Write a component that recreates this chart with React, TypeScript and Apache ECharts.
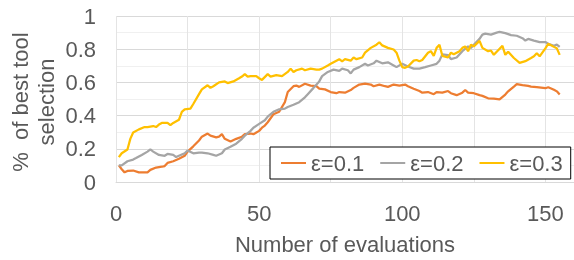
import React, { useEffect, useRef } from "react";
import * as echarts from "echarts";

const seriesNames = ["ε=0.1", "ε=0.2", "ε=0.3"];
const seriesColors = ["#ED7D31", "#A5A5A5", "#FFC000"];

const eps01: [number, number][] = [
  [1, 0.1], [2, 0.077], [3, 0.058], [4, 0.067], [6, 0.069], [8, 0.058], [10, 0.058], [11, 0.058],
  [12, 0.073], [14, 0.087], [16, 0.092], [17, 0.096], [18, 0.115], [20, 0.125], [22, 0.14], [24, 0.158],
  [25, 0.183], [27, 0.215], [29, 0.25], [30, 0.273], [32, 0.292], [33, 0.279], [35, 0.269], [36, 0.273],
  [37, 0.288], [38, 0.26], [40, 0.244], [42, 0.26], [44, 0.273], [45, 0.288], [47, 0.292], [48, 0.288],
  [50, 0.308], [51, 0.327], [52, 0.34], [53, 0.36], [55, 0.408], [57, 0.423], [59, 0.481], [60, 0.542],
  [62, 0.577], [63, 0.581], [64, 0.573], [66, 0.592], [68, 0.581], [70, 0.577], [71, 0.562], [73, 0.558],
  [75, 0.542], [77, 0.535], [78, 0.542], [80, 0.538], [82, 0.554], [83, 0.567], [85, 0.587], [87, 0.592],
  [89, 0.587], [90, 0.577], [92, 0.587], [94, 0.577], [95, 0.573], [97, 0.587], [99, 0.581], [101, 0.587],
  [102, 0.577], [104, 0.562], [106, 0.548], [107, 0.538], [109, 0.542], [111, 0.529], [112, 0.542],
  [114, 0.538], [116, 0.548], [117, 0.535], [119, 0.523], [121, 0.538], [122, 0.554], [123, 0.538],
  [125, 0.535], [127, 0.523], [128, 0.519], [130, 0.504], [132, 0.502], [134, 0.498], [136, 0.527],
  [137, 0.546], [139, 0.575], [140, 0.59], [142, 0.584], [144, 0.579], [145, 0.575], [147, 0.571],
  [150, 0.565], [151, 0.571], [153, 0.556], [154, 0.546], [155, 0.527],
];

const eps02: [number, number][] = [
  [1, 0.1], [2, 0.1], [4, 0.125], [6, 0.135], [7, 0.144], [9, 0.163], [11, 0.183], [12, 0.196],
  [13, 0.183], [15, 0.163], [17, 0.158], [18, 0.169], [20, 0.163], [21, 0.15], [22, 0.158], [24, 0.173],
  [25, 0.19], [27, 0.173], [29, 0.177], [30, 0.177], [32, 0.173], [34, 0.163], [35, 0.158], [37, 0.173],
  [38, 0.196], [40, 0.212], [42, 0.231], [44, 0.26], [45, 0.279], [47, 0.308], [48, 0.327], [50, 0.35],
  [52, 0.372], [53, 0.394], [55, 0.423], [57, 0.438], [59, 0.442], [60, 0.452], [62, 0.465], [64, 0.481],
  [66, 0.51], [67, 0.529], [69, 0.567], [71, 0.606], [72, 0.638], [74, 0.663], [76, 0.677], [78, 0.669],
  [79, 0.683], [81, 0.673], [82, 0.654], [83, 0.677], [85, 0.692], [87, 0.712], [88, 0.702], [90, 0.715],
  [91, 0.731], [93, 0.715], [95, 0.721], [97, 0.702], [98, 0.692], [100, 0.712], [102, 0.696],
  [104, 0.683], [106, 0.683], [108, 0.692], [110, 0.702], [112, 0.712], [113, 0.731], [114, 0.769],
  [116, 0.765], [117, 0.74], [119, 0.75], [121, 0.788], [123, 0.817], [124, 0.808], [125, 0.827],
  [127, 0.862], [128, 0.888], [129, 0.894], [131, 0.888], [133, 0.9], [134, 0.904], [136, 0.897],
  [138, 0.885], [140, 0.881], [142, 0.866], [143, 0.852], [144, 0.862], [146, 0.852], [148, 0.843],
  [150, 0.843], [151, 0.833], [153, 0.82], [154, 0.828], [155, 0.814],
];

const eps03: [number, number][] = [
  [1, 0.15], [2, 0.173], [4, 0.196], [5, 0.26], [6, 0.298], [8, 0.317], [10, 0.331], [11, 0.331],
  [13, 0.337], [14, 0.331], [15, 0.346], [16, 0.356], [18, 0.356], [19, 0.342], [20, 0.356], [22, 0.375],
  [23, 0.423], [24, 0.438], [26, 0.442], [27, 0.47], [29, 0.529], [30, 0.558], [32, 0.583], [33, 0.567],
  [34, 0.577], [36, 0.6], [38, 0.606], [39, 0.596], [41, 0.606], [43, 0.625], [44, 0.635], [45, 0.65],
  [46, 0.635], [47, 0.638], [49, 0.638], [50, 0.625], [51, 0.615], [53, 0.65], [54, 0.635], [56, 0.644],
  [58, 0.638], [60, 0.663], [61, 0.683], [62, 0.663], [63, 0.673], [65, 0.683], [66, 0.673], [68, 0.683],
  [70, 0.677], [71, 0.677], [72, 0.683], [74, 0.702], [75, 0.712], [77, 0.731], [78, 0.74], [79, 0.727],
  [80, 0.74], [82, 0.731], [83, 0.75], [84, 0.74], [86, 0.75], [87, 0.779], [89, 0.808], [91, 0.827],
  [92, 0.842], [93, 0.823], [95, 0.808], [97, 0.798], [98, 0.779], [99, 0.731], [100, 0.692],
  [101, 0.688], [102, 0.696], [104, 0.731], [105, 0.735], [106, 0.727], [107, 0.735], [109, 0.779],
  [110, 0.788], [111, 0.76], [112, 0.808], [113, 0.827], [114, 0.76], [116, 0.75], [117, 0.779],
  [118, 0.769], [120, 0.788], [121, 0.808], [122, 0.817], [123, 0.788], [124, 0.827], [125, 0.817],
  [127, 0.85], [128, 0.808], [130, 0.788], [131, 0.792], [132, 0.766], [133, 0.785], [135, 0.82],
  [136, 0.766], [137, 0.785], [139, 0.747], [141, 0.718], [143, 0.728], [145, 0.747], [146, 0.757],
  [147, 0.776], [148, 0.757], [150, 0.805], [151, 0.833], [153, 0.814], [154, 0.805], [155, 0.766],
];

const xAxisTitle = "Number of evaluations";
const yAxisTitle = "%  of best tool\nselection";

const FONT = "'Liberation Sans', Arial, sans-serif";
const TEXT = "#595959";

export default function App() {
  const ref = useRef<HTMLDivElement>(null);
  useEffect(() => {
    if (!ref.current) return;
    const chart = echarts.init(ref.current, undefined, { renderer: "svg" });
    const allData = [eps01, eps02, eps03];
    chart.setOption({
      animation: false,
      textStyle: { fontFamily: FONT },
      grid: { left: 116, top: 16, right: -2, bottom: 70, containLabel: false },
      xAxis: {
        type: "value",
        min: 0,
        max: 160,
        interval: 50,
        axisLine: { show: true, lineStyle: { color: "#D9D9D9", width: 1 } },
        axisTick: { show: false },
        axisLabel: { color: TEXT, fontSize: 22, fontFamily: FONT, margin: 20, showMaxLabel: false },
        splitLine: { show: true, lineStyle: { color: "#E4E4E4", width: 1 } },
        minorTick: { show: false, splitNumber: 2 },
        minorSplitLine: { show: true, lineStyle: { color: "#E4E4E4", width: 1 } },
        name: xAxisTitle,
        nameLocation: "middle",
        nameGap: 51,
        nameTextStyle: { color: TEXT, fontSize: 22, fontFamily: FONT },
      },
      yAxis: {
        type: "value",
        min: 0,
        max: 1,
        interval: 0.2,
        axisLine: { show: false },
        axisTick: { show: false },
        axisLabel: { color: TEXT, fontSize: 22, fontFamily: FONT, margin: 20 },
        splitLine: { show: true, lineStyle: { color: "#D9D9D9", width: 1 } },
        minorTick: { show: false, splitNumber: 2 },
        minorSplitLine: { show: true, lineStyle: { color: "#F0F0F0", width: 1 } },
      },
      legend: {
        left: 270,
        top: 147,
        orient: "horizontal",
        backgroundColor: "#ffffff",
        borderColor: "#000000",
        borderWidth: 1,
        padding: [5, 8, 5, 10],
        itemWidth: 25,
        itemHeight: 2,
        itemGap: 15,
        textStyle: { color: TEXT, fontSize: 22, fontFamily: FONT },
        data: seriesNames,
      },
      graphic: [
        {
          type: "text",
          x: 33,
          y: 102,
          rotation: Math.PI / 2,
          style: {
            text: yAxisTitle,
            fill: TEXT,
            font: `22px ${FONT}`,
            lineHeight: 26,
            align: "center",
            verticalAlign: "middle",
          },
        },
      ],
      series: allData.map((d, i) => ({
        name: seriesNames[i],
        type: "line",
        data: d,
        symbol: "none",
        showSymbol: false,
        lineStyle: { color: seriesColors[i], width: 2.25 },
        itemStyle: { color: seriesColors[i] },
        z: 2,
      })),
    });
    return () => chart.dispose();
  }, []);
  return <div ref={ref} style={{ position: "fixed", left: 0, top: 0, width: 574, height: 260 }} />;
}
